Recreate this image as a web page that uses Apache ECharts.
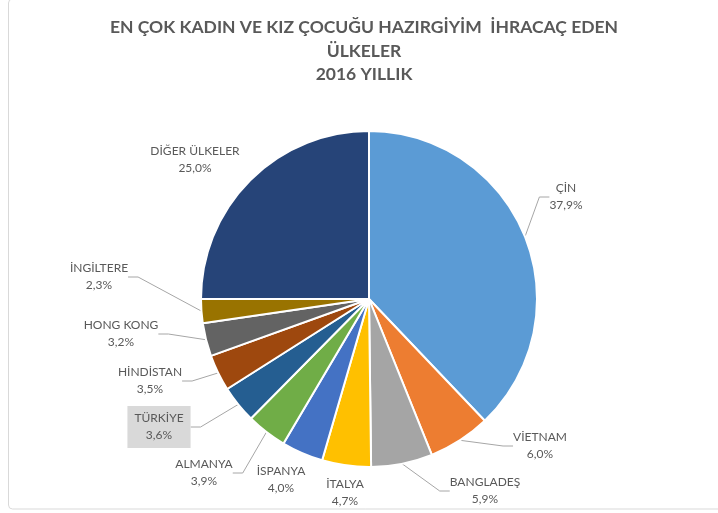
<!DOCTYPE html>
<html>
<head>
<meta charset="utf-8">
<script src="https://cdn.jsdelivr.net/npm/echarts@6/dist/echarts.min.js"></script>
<style>
  html, body { margin: 0; padding: 0; background: #fff; }
  #chart { width: 718px; height: 513px; }
</style>
</head>
<body>
<div id="chart"></div>
<script>
// ülkeler ve payları (%)
var countries = ['ÇİN', 'VİETNAM', 'BANGLADEŞ', 'İTALYA', 'İSPANYA', 'ALMANYA', 'TÜRKİYE', 'HİNDİSTAN', 'HONG KONG', 'İNGİLTERE', 'DİĞER ÜLKELER'];
var shares = [37.9, 6.0, 5.9, 4.7, 4.0, 3.9, 3.6, 3.5, 3.2, 2.3, 25.0];
var colors = ['#5b9bd5', '#ed7d31', '#a5a5a5', '#ffc000', '#4472c4', '#70ad47', '#255e91', '#9e480e', '#636363', '#997300', '#264478'];
var titleLines = ['EN ÇOK KADIN VE KIZ ÇOCUĞU HAZIRGİYİM  İHRACAÇ EDEN', 'ÜLKELER', '2016 YILLIK'];

// etiket merkezleri (Excel'deki yerleşime göre)
var labelSpots = [[566, 197], [540, 446], [485, 491], [345, 493], [281, 480], [204, 473], [159, 427], [150, 381], [121, 334], [99, 277], [195, 160]];
var noLine = { 'İTALYA': 1, 'İSPANYA': 1, 'DİĞER ÜLKELER': 1 };

var font = 'Lato, "Open Sans", sans-serif';

var pieData = countries.map(function (name, i) {
    var item = { name: name, value: shares[i], itemStyle: { color: colors[i] } };
    if (noLine[name]) item.labelLine = { show: false };
    if (name === 'TÜRKİYE') {
        item.label = { backgroundColor: '#d9d9d9', padding: [5, 7, 3, 7] };
    }
    return item;
});

var myChart = echarts.init(document.getElementById('chart'));
myChart.setOption({
    animation: false,
    graphic: [
        {
            type: 'rect',
            shape: { x: 8.5, y: -1, width: 740, height: 510, r: 4 },
            style: { fill: 'none', stroke: '#d9d9d9', lineWidth: 1 },
            silent: true
        },
        {
            type: 'text',
            x: 364,
            y: 16,
            style: {
                text: titleLines.join('\n'),
                font: 'bold 17.5px ' + font,
                fill: '#595959',
                align: 'center',
                lineHeight: 23.5
            }
        }
    ],
    series: [{
        type: 'pie',
        center: [369, 299],
        radius: [0, 168],
        startAngle: 90,
        clockwise: true,
        avoidLabelOverlap: false,
        itemStyle: { borderColor: '#fff', borderWidth: 2 },
        label: {
            show: true,
            position: 'outside',
            color: '#595959',
            fontFamily: font,
            fontSize: 12,
            lineHeight: 17,
            align: 'center',
            formatter: function (p) {
                return p.name + '\n' + p.value.toFixed(1).replace('.', ',') + '%';
            }
        },
        labelLine: {
            show: true,
            length: 15,
            length2: 10,
            lineStyle: { color: '#a6a6a6', width: 1 }
        },
        labelLayout: function (params) {
            var s = labelSpots[params.dataIndex];
            return {
                x: s[0],
                y: s[1],
                align: 'center',
                verticalAlign: 'middle'
            };
        },
        data: pieData
    }]
});
</script>
</body>
</html>
